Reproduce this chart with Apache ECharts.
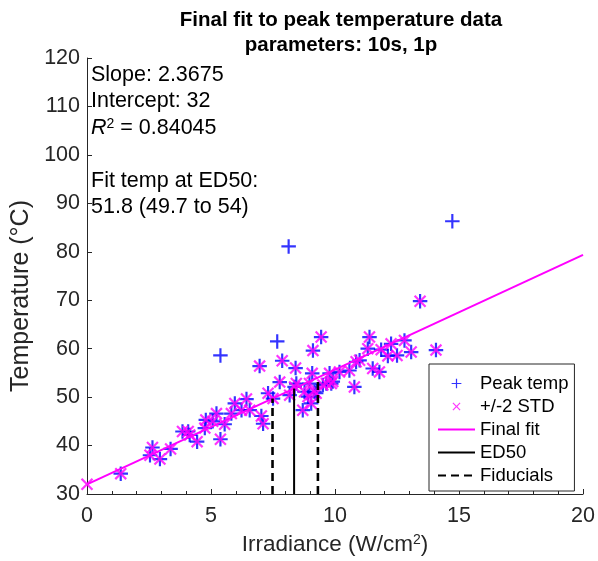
<!DOCTYPE html>
<html><head><meta charset="utf-8">
<script src="https://cdn.jsdelivr.net/npm/echarts@6/dist/echarts.min.js"></script>
<style>html,body{margin:0;padding:0;background:#fff}#c{width:598px;height:561px}</style>
</head><body><div id="c"></div>
<script>
// ---------- data ----------
const titleLines = ['Final fit to peak temperature data', 'parameters: 10s, 1p'];
const xTicks = [0, 5, 10, 15, 20];
const yTicks = [30, 40, 50, 60, 70, 80, 90, 100, 110, 120];
const xAxisTitle = 'Irradiance (W/cm{sup|2})';
const yAxisTitle = 'Temperature (°C)';
const legendNames = ['Peak temp', '+/-2 STD', 'Final fit', 'ED50', 'Fiducials'];

// points inside +/-2 STD (irradiance W/cm2, temperature °C)
const inlierIrradiance = [1.36, 2.54, 2.64, 2.94, 3.37, 3.85, 4.08, 4.14, 4.44, 4.75, 4.79, 5.07, 5.22, 5.38, 5.55, 5.82, 5.96, 6.23, 6.43, 6.56, 6.96, 7.03, 7.10, 7.30, 7.50, 7.77, 7.87, 8.17, 8.37, 8.41, 8.44, 8.70, 8.77, 8.91, 8.97, 9.04, 9.08, 9.11, 9.17, 9.24, 9.44, 9.51, 9.65, 9.78, 9.85, 9.91, 10.18, 10.58, 10.78, 10.85, 10.99, 11.32, 11.39, 11.52, 11.79, 11.86, 12.13, 12.26, 12.50, 12.80, 13.07, 13.43, 14.07];
const inlierTemp = [34.2, 38.0, 39.6, 37.2, 39.3, 42.9, 42.9, 42.2, 40.8, 43.6, 45.3, 45.0, 46.6, 41.3, 44.4, 46.6, 48.7, 47.3, 49.6, 47.3, 56.4, 46.1, 44.5, 50.8, 49.7, 53.1, 57.5, 50.4, 52.1, 56.0, 52.8, 47.3, 51.1, 50.1, 52.8, 48.7, 54.9, 59.6, 51.1, 50.8, 62.4, 52.5, 52.8, 54.9, 52.8, 53.2, 55.2, 55.5, 52.1, 57.3, 57.6, 60.0, 62.4, 55.9, 55.2, 59.8, 58.5, 61.0, 58.6, 61.7, 59.3, 69.8, 59.7];
// points outside +/-2 STD
const outlierIrradiance = [5.38, 7.67, 8.13, 14.73];
const outlierTemp = [58.6, 61.5, 81.1, 86.3];
// extra +/-2 STD marker at the start of the fit
const stdExtraIrradiance = [0];
const stdExtraTemp = [32];

const fitSlope = 2.3675;
const fitIntercept = 32;
const fitRange = [0, 20];
const ed50 = 8.35;
const fiducials = [7.48, 9.31];
const annotationLines = ['Slope: 2.3675', 'Intercept: 32', '{i|R}{sup|2} = 0.84045', '', 'Fit temp at ED50:', '51.8 (49.7 to 54)'];

// ---------- build ----------
const FONT = '"Liberation Sans", Arial, Helvetica, sans-serif';
const fit = x => fitIntercept + fitSlope * x;
const zip = (a, b) => a.map((v, i) => [v, b[i]]);

const PLUS = 'path://M6.8,0H9.2V6.8H16V9.2H9.2V16H6.8V9.2H0V6.8H6.8Z';
const XMARK = 'path://M0,2L2,0L8,6L14,0L16,2L10,8L16,14L14,16L8,10L2,16L0,14L6,8Z';
const PLUS_ICON = 'path://M-3.5,-3.5M19.5,19.5M7,0H9V7H16V9H9V16H7V9H0V7H7Z';
const XMARK_ICON = 'path://M-6,-6M22,22M0,1.7L1.7,0L8,6.3L14.3,0L16,1.7L9.7,8L16,14.3L14.3,16L8,9.7L1.7,16L0,14.3L6.3,8Z';

const axisColor = '#262626';
const chart = echarts.init(document.getElementById('c'), null, {renderer: 'canvas'});
const graphics = annotationLines.map((t, i) => ({
  type: 'text', x: 91, y: 75 + i * 26.5,
  style: {
    text: t, fontSize: 21.5, fontFamily: FONT, fill: '#000', verticalAlign: 'middle',
    rich: {
      i: {fontStyle: 'italic', fontSize: 21.5, fontFamily: FONT, fill: '#000'},
      sup: {fontSize: 14, fontFamily: FONT, fill: '#000', verticalAlign: 'top', lineHeight: 14}
    }
  }
}));

chart.setOption({
  animation: false,
  backgroundColor: '#fff',
  title: {
    text: titleLines.join('\n'),
    left: 341, top: 8, padding: 0,
    textAlign: 'center',
    textStyle: {fontSize: 20.5, fontWeight: 'bold', fontFamily: FONT, color: '#000', lineHeight: 25}
  },
  grid: {left: 87, right: 14, top: 58, bottom: 65, containLabel: false},
  xAxis: {
    type: 'value', min: xTicks[0], max: xTicks[xTicks.length - 1], interval: xTicks[1] - xTicks[0],
    name: xAxisTitle, nameLocation: 'middle', nameGap: 39,
    nameTextStyle: {fontSize: 22.5, fontFamily: FONT, color: axisColor,
      rich: {sup: {fontSize: 14, fontFamily: FONT, color: axisColor, verticalAlign: 'top', lineHeight: 15}}},
    axisLine: {show: true, onZero: false, lineStyle: {color: axisColor, width: 1}},
    axisTick: {show: true, inside: true, length: 5, lineStyle: {color: axisColor}},
    minorTick: {show: true, splitNumber: 5, length: 3, lineStyle: {color: axisColor}},
    axisLabel: {fontSize: 21.5, fontFamily: FONT, color: axisColor, margin: 11},
    splitLine: {show: false}
  },
  yAxis: {
    type: 'value', min: yTicks[0], max: yTicks[yTicks.length - 1], interval: yTicks[1] - yTicks[0],
    name: yAxisTitle, nameLocation: 'middle', nameGap: 50,
    nameTextStyle: {fontSize: 25, fontFamily: FONT, color: axisColor, padding: [0, 40, 0, 0]},
    axisLine: {show: true, onZero: false, lineStyle: {color: axisColor, width: 1}},
    axisTick: {show: true, inside: true, length: 5, lineStyle: {color: axisColor}},
    axisLabel: {fontSize: 21.5, fontFamily: FONT, color: axisColor, margin: 7},
    splitLine: {show: false}
  },
  legend: {
    orient: 'vertical', left: 429, top: 364,
    padding: [10, 6, 6, 8], itemGap: 4, itemWidth: 37, itemHeight: 14,
    backgroundColor: '#fff', borderColor: axisColor, borderWidth: 1, borderRadius: 0,
    selectedMode: false,
    textStyle: {fontSize: 18.5, fontFamily: FONT, color: '#000'},
    data: [
      {name: legendNames[0], icon: PLUS_ICON},
      {name: legendNames[1], icon: XMARK_ICON},
      {name: legendNames[2], itemStyle: {opacity: 0}},
      {name: legendNames[3], itemStyle: {opacity: 0}},
      {name: legendNames[4], itemStyle: {opacity: 0}}
    ]
  },
  graphic: graphics,
  series: [
    {name: legendNames[0], type: 'scatter', data: allPeakData(), symbol: PLUS, symbolSize: 14.5,
      itemStyle: {color: '#0000ff'}, clip: false},
    {name: legendNames[1], type: 'scatter', data: zip(stdExtraIrradiance, stdExtraTemp).concat(zip(inlierIrradiance, inlierTemp)),
      symbol: XMARK, symbolSize: 12.5, itemStyle: {color: '#ff00ff'}, clip: false},
    {name: legendNames[2], type: 'line', data: fitRange.map(x => [x, fit(x)]), symbol: 'none',
      lineStyle: {color: '#ff00ff', width: 2}, itemStyle: {color: '#ff00ff'}},
    {name: legendNames[3], type: 'line', data: [[ed50, yTicks[0]], [ed50, fit(ed50)]], symbol: 'none',
      lineStyle: {color: '#000', width: 2}, itemStyle: {color: '#000'}},
    ...fiducials.map(f => ({name: legendNames[4], type: 'line', data: [[f, yTicks[0]], [f, fit(f)]], symbol: 'none',
      lineStyle: {color: '#000', width: 2.6, type: [8, 5]}, itemStyle: {color: '#000'}}))
  ]
});
function allPeakData() {
  return zip(inlierIrradiance, inlierTemp).concat(zip(outlierIrradiance, outlierTemp));
}
</script></body></html>
